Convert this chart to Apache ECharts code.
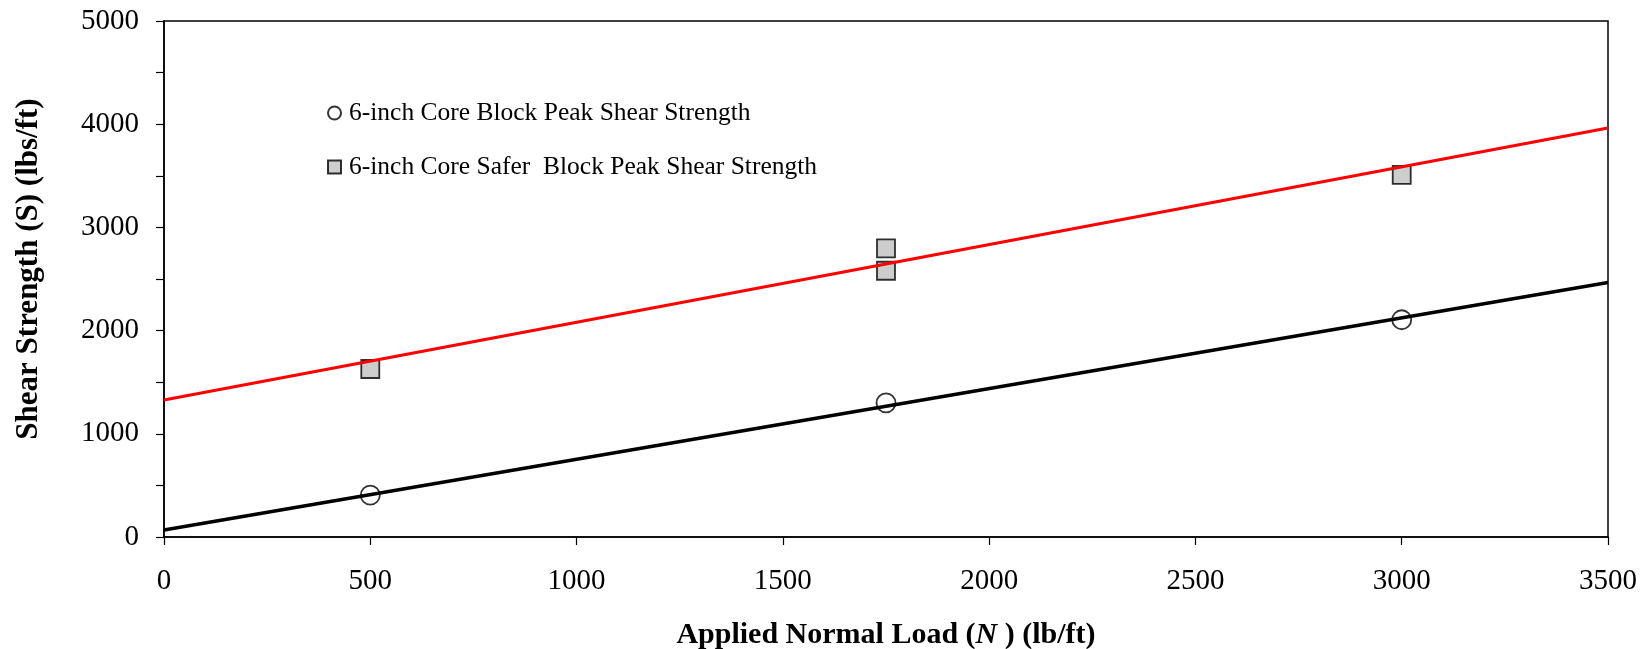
<!DOCTYPE html>
<html>
<head>
<meta charset="utf-8">
<script src="https://cdn.jsdelivr.net/npm/echarts@6/dist/echarts.min.js"></script>
<style>
  html, body { margin: 0; padding: 0; background: #fff; }
  #chart { width: 1646px; height: 649px; }
</style>
</head>
<body>
<div id="chart"></div>
<script>
// measured points (normal load lb/ft, shear strength lbs/ft)
const coreBlock = [[500, 405], [1750, 1300], [3000, 2105]];
const saferBlock = [[500, 1628], [1750, 2797], [1750, 2580], [3000, 3508]];
// linear fits, read at both ends of the axis
const coreFit = [[0, 68], [3500, 2467]];
const saferFit = [[0, 1328], [3500, 3963]];
const xTicks = [0, 3500, 500];   // min, max, step
const yTicks = [0, 5000, 1000];

const font = 'Liberation Serif, Times New Roman, serif';

let myChart = echarts.init(document.getElementById('chart'));
let option = {
  backgroundColor: '#fff',
  animation: false,
  grid: {
    left: 164, right: 38, top: 21, bottom: 112,
    outerBoundsMode: 'none',
    show: true, borderColor: '#000', borderWidth: 1.5, backgroundColor: 'transparent'
  },
  legend: {
    orient: 'vertical',
    left: 322,
    top: 95,
    itemGap: 28,
    itemWidth: 13,
    itemHeight: 13,
    data: ['6-inch Core Block Peak Shear Strength', '6-inch Core Safer  Block Peak Shear Strength'],
    textStyle: { fontFamily: font, fontSize: 25.5, color: '#000', padding: [0, 0, 0, 3] }
  },
  xAxis: {
    type: 'value',
    min: xTicks[0], max: xTicks[1], interval: xTicks[2],
    name: 'Applied Normal Load ({i|N }) (lb/ft)',
    nameLocation: 'middle',
    nameGap: 83,
    nameTextStyle: {
      fontFamily: font, fontSize: 30, fontWeight: 'bold', color: '#000',
      rich: { i: { fontFamily: font, fontSize: 30, fontWeight: 'bold', fontStyle: 'italic', color: '#000' } }
    },
    axisLine: { lineStyle: { color: '#000', width: 1.5 } },
    axisTick: { inside: false, length: 8, lineStyle: { color: '#000', width: 1.2 } },
    axisLabel: { margin: 30, fontFamily: font, fontSize: 29, color: '#000', formatter: v => String(v) },
    splitLine: { show: false }
  },
  yAxis: {
    type: 'value',
    min: yTicks[0], max: yTicks[1], interval: yTicks[2],
    name: 'Shear Strength (S) (lbs/ft)',
    nameLocation: 'middle',
    nameGap: 120,
    nameTextStyle: { fontFamily: font, fontSize: 31, fontWeight: 'bold', color: '#000', padding: [0, 0, 0, 20] },
    axisLine: { show: true, lineStyle: { color: '#000', width: 1.5 } },
    axisTick: { show: true, inside: false, length: 8, lineStyle: { color: '#000', width: 1.2 } },
    minorTick: { show: true, splitNumber: 2, length: 8, lineStyle: { color: '#000', width: 1.2 } },
    axisLabel: { margin: 25, fontFamily: font, fontSize: 29, color: '#000', formatter: v => String(v) },
    splitLine: { show: false }
  },
  series: [
    {
      type: 'line', data: coreFit, showSymbol: false, silent: true,
      lineStyle: { color: '#000', width: 3.5 }, z: 2
    },
    {
      type: 'line', data: saferFit, showSymbol: false, silent: true,
      lineStyle: { color: '#ff0000', width: 3.2 }, z: 2
    },
    {
      name: '6-inch Core Block Peak Shear Strength',
      type: 'scatter', data: coreBlock, symbol: 'circle', symbolSize: 19,
      itemStyle: { color: 'transparent', borderColor: '#000', borderWidth: 1.8 }, z: 3
    },
    {
      name: '6-inch Core Safer  Block Peak Shear Strength',
      type: 'scatter', data: saferBlock, symbol: 'rect', symbolSize: 18,
      itemStyle: { color: '#c0c0c0', borderColor: '#000', borderWidth: 1.8 }, z: 1
    }
  ]
};
myChart.setOption(option, true);
window.addEventListener('resize', () => {
  myChart.resize();
});
</script>
</body>
</html>
